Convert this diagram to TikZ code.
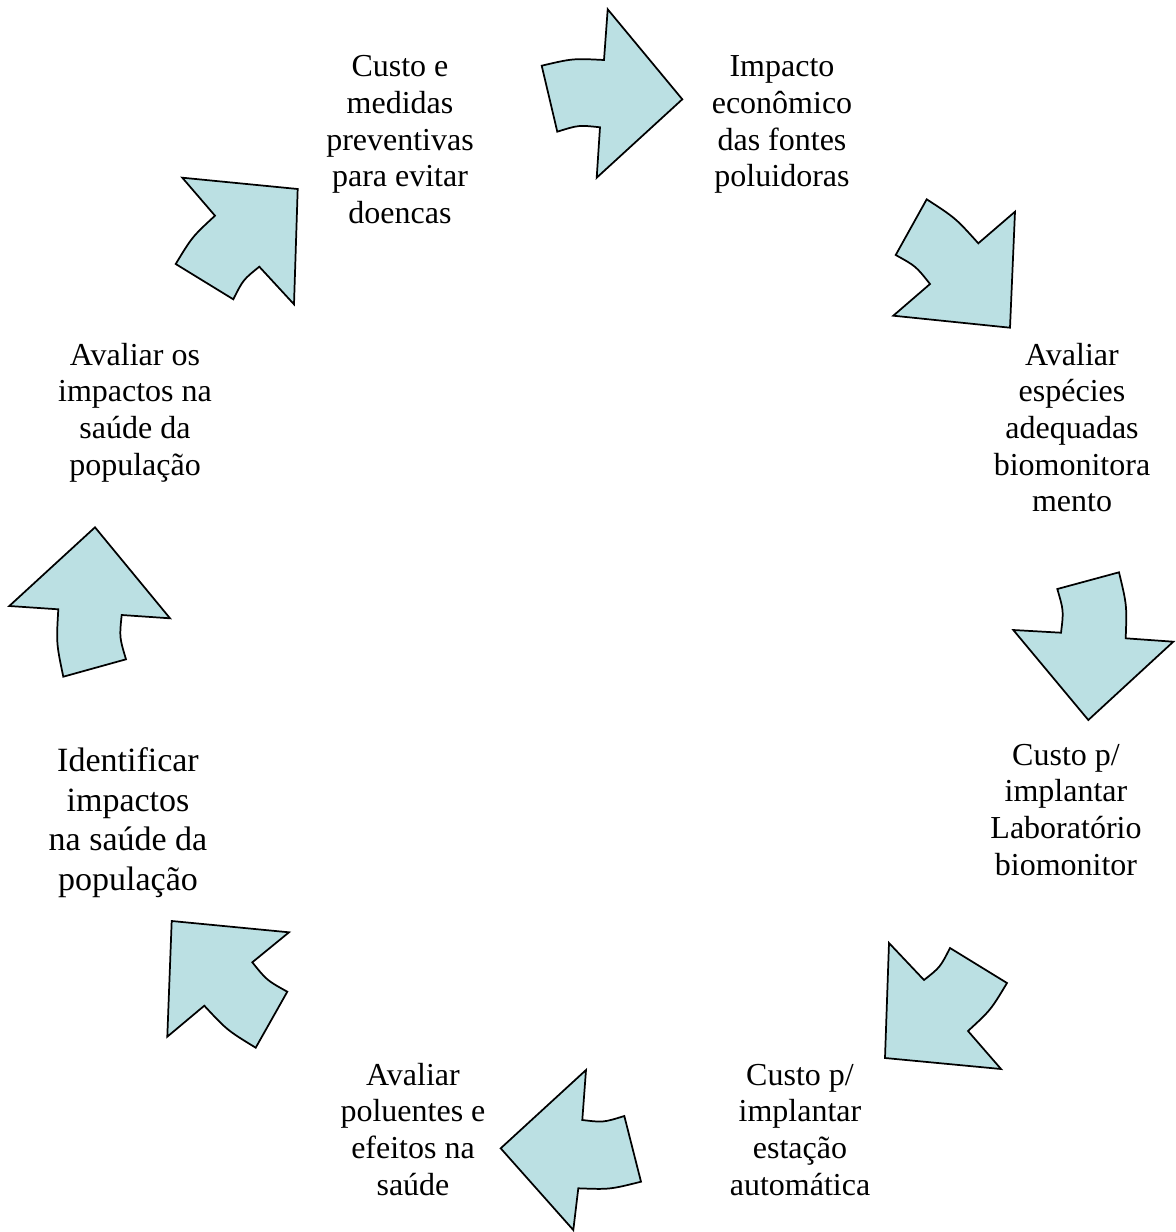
\documentclass[tikz,border=0pt]{standalone}
\usepackage{fontspec}
\setmainfont{Liberation Serif}
\usepackage{xcolor}
\usepackage{tikz}
\usetikzlibrary{positioning}
\definecolor{cyclefill}{HTML}{BBE0E3}

\begin{document}
\begin{tikzpicture}[x=0.75pt, y=-0.75pt,
  blk/.style={fill=cyclefill, draw=black, line width=1.3pt, line join=miter},
  lbl/.style={font=\fontsize{24}{27.5}\selectfont, align=center, inner sep=0pt, anchor=base},
  biglbl/.style={lbl, font=\fontsize{25.5}{29.6}\selectfont}]
\useasboundingbox (0,0) rectangle (1176,1232);
\node[lbl] (custo) at (400,223.5) {Custo e\\medidas\\preventivas\\para evitar\\doencas};
\node[lbl] (impacto) at (782,186.8) {Impacto\\econômico\\das fontes\\poluidoras};
\node[lbl] (especies) at (1072,511.8) {Avaliar\\espécies\\adequadas\\biomonitora\\mento};
\node[lbl] (lab) at (1066,875) {Custo p/\\implantar\\Laboratório\\biomonitor};
\node[lbl] (estacao) at (800,1195) {Custo p/\\implantar\\estação\\automática};
\node[lbl] (poluentes) at (413,1195) {Avaliar\\poluentes e\\efeitos na\\saúde};
\node[biglbl] (identificar) at (128,890) {Identificar\\impactos\\na saúde da\\população};
\node[lbl] (avaliar) at (135,475) {Avaliar os\\impactos na\\saúde da\\população};
\draw[blk] (541.7,65.7) .. controls (572.8,58.4) .. (604,60) -- (607.7,9.3) -- (682.3,99.3)
  -- (596.7,177.7) -- (600,127.3) .. controls (578.6,125) .. (557.3,131.7) -- cycle;
\draw[blk] (926.7,199.3) .. controls (955.5,218) .. (978.3,243.3) -- (1015,211.7) -- (1010,327.7)
  -- (893.3,315.7) -- (930,284) .. controls (915.9,266.2) .. (895.7,255) -- cycle;
\draw[blk] (1057.3,589) -- (1119,572.3) .. controls (1126.9,605.2) .. (1125.7,638.3) -- (1173.3,641.7)
  -- (1088.3,720) -- (1013.3,630) -- (1061,632.7) .. controls (1063.7,610.8) .. cycle;
\draw[blk] (889,943) -- (924,980) .. controls (940.2,967.2) .. (950,948) -- (1007,983)
  .. controls (990.7,1010.1) .. (968,1031) -- (1001,1069) -- (885,1058) -- cycle;
\draw[blk] (586,1070) -- (582.3,1120) .. controls (603.4,1122.5) .. (624.3,1116) -- (641,1181.7)
  .. controls (609.8,1189.5) .. (578.3,1188.3) -- (573.3,1230) -- (500.7,1148.3) -- cycle;
\draw[blk] (171.7,921) -- (289,932.3) -- (252.3,962.3) .. controls (266.8,980.3) .. (287.3,991.7)
  -- (255.7,1047.7) .. controls (227,1030.1) .. (204.3,1005.7) -- (167.3,1036.7) -- cycle;
\draw[blk] (95,527.3) -- (170,618.3) -- (121.7,615) .. controls (119.4,637.3) .. (126,659.3)
  -- (63.3,676.7) .. controls (56.3,643.2) .. (58.3,609.3) -- (9.3,606) -- cycle;
\draw[blk] (182.3,177.7) -- (297.7,189) -- (294,304.3) -- (259.3,266.7) .. controls (243.1,279.8) .. (233.3,299.3)
  -- (175.7,264) .. controls (192.2,236.8) .. (215,215.7) -- cycle;
\end{tikzpicture}
\end{document}
